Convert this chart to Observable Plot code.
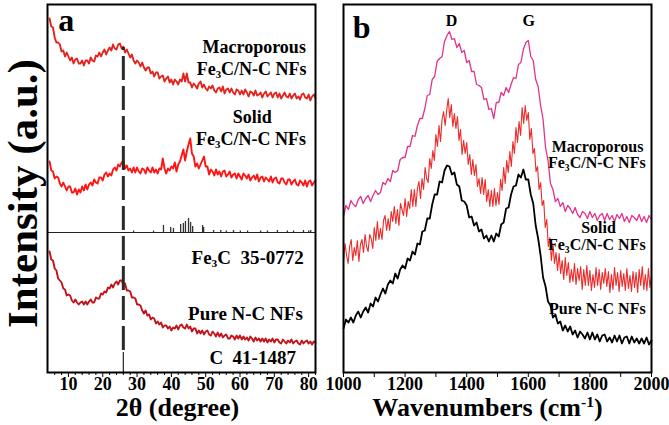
<!DOCTYPE html>
<html><head><meta charset="utf-8">
<script src="https://cdn.jsdelivr.net/npm/d3@7"></script>
<script src="https://cdn.jsdelivr.net/npm/@observablehq/plot@0.6"></script>
<style>
body{margin:0;background:#fff;}
#wrap{display:flex;width:669px;height:425px;overflow:hidden;}
#wrap svg{overflow:visible;}
</style></head><body><div id="wrap"></div>
<script>
// ---------- Panel a: XRD (2θ grid 4.5° → 82°, 0.5° step) ----------
const thetaStart = 4.5, thetaStep = 0.5;
const xrdMacroporous = [
354,346,345,335,330,330,328,321,322,316,
320,316,312,315,309,313,314,309,309,312,
307,312,312,309,315,312,311,317,316,320,
316,320,323,318,322,325,322,328,324,323,
328,329,324,326,320,323,319,315,318,312,
309,312,310,306,310,305,302,305,305,299,
301,296,300,300,294,296,297,291,294,296,
290,293,288,293,291,288,293,291,299,291,
299,290,290,285,289,287,284,289,291,285,
288,284,282,286,284,287,282,280,284,285,
281,286,279,283,284,280,284,280,278,283,
282,278,282,278,283,280,276,281,280,277,
282,277,278,280,275,279,281,276,278,280,
275,279,280,275,279,274,277,280,276,275,
279,274,277,279,274,276,273,278,279,275,
274,278,272,276,278,274];
const xrdSolid = [
211,202,201,194,196,195,189,186,190,186,
182,186,186,180,180,184,178,183,180,186,
182,188,183,188,190,187,193,190,189,195,
195,192,198,200,196,199,197,203,205,202,
208,206,210,212,204,207,202,204,200,205,
200,205,201,199,204,203,199,205,202,200,
205,200,203,199,204,203,214,204,199,204,
202,206,204,210,201,208,211,217,223,212,
221,228,234,219,216,206,209,204,208,212,
216,206,206,198,203,201,197,203,198,201,
196,201,202,196,198,201,195,198,199,194,
199,196,193,199,197,194,198,192,195,197,
193,198,191,195,196,191,195,193,191,196,
190,194,195,190,189,194,194,190,188,193,
193,188,191,193,188,187,192,190,187,192,
186,191,192,187,190,192];
const xrdPure = [
121,113,112,104,102,94,92,90,84,83,
77,78,77,72,70,73,70,68,70,71,
68,71,68,71,73,70,70,75,74,74,
79,78,81,80,85,84,88,85,89,91,
88,92,92,88,89,82,82,81,75,75,
74,68,68,67,62,59,62,57,58,53,
55,54,49,51,48,50,45,47,47,44,
46,42,45,44,47,43,47,48,45,44,
48,44,46,41,44,44,39,42,39,42,
38,41,42,38,37,41,39,36,40,36,
39,35,37,38,34,34,37,36,33,37,
34,37,33,36,33,35,32,36,34,31,
35,32,34,31,34,31,34,30,33,31,
34,30,33,33,30,29,33,31,29,32,
30,33,29,31,32,29,28,32,29,31,
32,29,31,28,31,30];
// Fe3C reference pattern (JCPDS 35-0772) and carbon (41-1487)
const fe3cAngle  = [29.0,34.8,37.7,39.8,40.6,42.7,43.5,44.1,45.0,45.6,46.2,49.1,49.4,52.3,54.4,56.0,58.1,60.1,62.2,66.0,68.0,70.9,73.8,75.6,78.5,80.0,80.6];
const fe3cHeight = [1.5,1.5,7,5,4,8,9,11,14,10,6,7,5,2,2,1.5,2,1.5,1.5,1.5,1.5,2,1.5,1.5,2,1.5,2];
const carbonAngle = [26.0];
const carbonHeight = [20];
const xrdTicks = [10,20,30,40,50,60,70,80];
const xrdMinorTicks = [6,8,12,14,16,18,22,24,26,28,32,34,36,38,42,44,46,48,52,54,56,58,62,64,66,68,72,74,76,78,82];

// ---------- Panel b: Raman (1000 → 2000 cm-1) ----------
const ramanStart = 1000, ramanStep = 8;      // macroporous and pure spectra
const ramanSolidStep = 5;                     // solid spectrum (noisier, finer sampling)
const ramanMacroporous = [
156,167,163,172,168,166,173,176,169,174,
177,171,177,182,178,180,190,188,194,191,
202,200,202,213,215,215,226,226,237,236,
247,254,254,264,277,278,293,296,311,314,
316,331,337,341,333,334,325,329,320,322,
310,312,301,301,288,287,285,273,274,263,
264,254,270,270,280,277,285,280,288,295,
294,308,310,323,330,332,316,312,293,286,
267,253,225,212,189,183,171,174,166,170,
161,167,164,159,165,158,155,161,159,154,
161,155,159,152,157,159,152,159,153,157,
151,158,154,159,151,156,150,157,155,152,
158,151,156,150,157,153];
const ramanSolid = [
111,129,117,109,126,133,112,125,117,132,
111,128,133,120,138,126,121,138,134,124,
145,132,151,133,144,133,152,157,142,154,
142,161,151,166,149,163,147,169,163,157,
174,156,171,164,183,166,183,166,184,191,
174,194,183,205,194,190,214,204,222,212,
238,226,247,231,253,261,247,262,274,255,
268,246,259,244,256,232,243,218,232,219,
230,208,218,198,213,197,208,186,194,179,
195,178,193,171,183,166,182,166,184,167,
180,168,193,182,205,189,212,200,221,206,
231,219,245,230,251,237,265,249,267,252,
260,233,244,219,224,201,206,183,190,167,
172,145,153,126,135,112,129,109,120,102,
119,99,112,93,115,97,110,90,103,91,
109,88,104,92,106,83,103,87,107,87,
102,82,98,85,105,87,103,83,100,89,
104,86,101,80,98,83,105,87,100,81,
102,86,99,82,104,84,97,81,101,85,
100,80,103,87,106,83,98,82,104,85,
97];
const ramanPure = [
44,53,50,55,50,57,61,55,61,65,
60,69,66,75,71,78,84,79,88,92,
89,99,94,103,107,104,114,112,121,118,
129,128,141,142,154,154,168,178,178,191,
190,202,207,206,198,200,188,186,172,171,
167,155,156,147,150,141,143,134,137,131,
137,131,139,136,148,150,164,165,178,186,
187,198,195,203,193,193,178,169,147,134,
117,95,86,71,67,55,58,49,51,42,
47,41,46,38,42,35,41,38,34,40,
33,40,33,38,31,37,38,31,35,30,
37,31,37,29,35,36,29,36,30,34,
29,34,29,35,28,32];
const ramanTicks = [1000,1200,1400,1600,1800,2000];
const ramanMinorTicks = [1100,1300,1500,1700,1900];

// ---------- helpers ----------
const rows = (arr, start, step) => arr.map((v, i) => ({x: start + i * step, y: v}));
const serif = "'Liberation Serif','Times New Roman',serif";

function enrich(svg) {
  d3.select(svg).selectAll("text").each(function () {
    const t = this.textContent;
    const el = d3.select(this);
    if (t.includes("Fe3C")) {
      const i = t.indexOf("Fe3C");
      el.text(null);
      el.append("tspan").text(t.slice(0, i) + "Fe");
      el.append("tspan").attr("font-size", "0.6em").attr("baseline-shift", "-30%").text("3");
      el.append("tspan").text("C" + t.slice(i + 4));
    } else if (t.includes("cm-1")) {
      const i = t.indexOf("cm-1");
      el.text(null);
      el.append("tspan").text(t.slice(0, i) + "cm");
      el.append("tspan").attr("font-size", "0.6em").attr("baseline-shift", "55%").text("-1");
      el.append("tspan").text(t.slice(i + 4));
    }
  });
  return svg;
}

const common = {
  height: 425, marginTop: 4, marginBottom: 53,
  y: {domain: [0, 368], axis: null},
  style: {fontFamily: serif, fontWeight: "bold", fontSize: "18px", color: "black", background: "white"}
};

// ---------- Panel a ----------
const chartA = Plot.plot({
  ...common,
  width: 330, marginLeft: 47, marginRight: 15,
  x: {domain: [3.9, 82], label: null},
  marks: [
    Plot.ruleY([140], {stroke: "#222", strokeWidth: 1.2}),
    Plot.ruleX(fe3cAngle, {x: d => d, y1: 140, y2: (d, i) => 140 + fe3cHeight[i], stroke: "#333", strokeWidth: 1.3}),
    Plot.ruleX(carbonAngle, {x: d => d, y1: 0, y2: (d, i) => carbonHeight[i], stroke: "#222", strokeWidth: 1.2}),
    Plot.line(rows(xrdMacroporous, thetaStart, thetaStep), {x: "x", y: "y", stroke: "#e3241e", strokeWidth: 1.9}),
    Plot.line(rows(xrdSolid, thetaStart, thetaStep), {x: "x", y: "y", stroke: "#ff1414", strokeWidth: 1.9}),
    Plot.line(rows(xrdPure, thetaStart, thetaStep), {x: "x", y: "y", stroke: "#c3121a", strokeWidth: 1.9}),
    Plot.ruleX(carbonAngle, {x: d => d, y1: 22, y2: 325, stroke: "#2a2a2a", strokeWidth: 3, strokeDasharray: "24,6"}),
    Plot.ruleX(xrdMinorTicks, {x: d => d, y1: 0, y2: -3, stroke: "black", strokeWidth: 1}),
    Plot.axisX(xrdTicks, {tickSize: 5, tickPadding: 0, stroke: "black", fontSize: 18, label: null}),
    Plot.frame({stroke: "black", strokeWidth: 2}),
    Plot.text(["a"], {x: 7.0, y: 352, textAnchor: "start", fontSize: 32, fontWeight: "bold"}),
    Plot.text(["Macroporous"], {x: 79.2, y: 325, textAnchor: "end", fontSize: 18}),
    Plot.text(["Fe3C/N-C NFs"], {x: 79.4, y: 303, textAnchor: "end", fontSize: 18}),
    Plot.text(["Solid"], {x: 63.6, y: 255, textAnchor: "middle", fontSize: 18}),
    Plot.text(["Fe3C/N-C NFs"], {x: 79.2, y: 233, textAnchor: "end", fontSize: 18}),
    Plot.text(["Fe3C\u00a0\u00a035-0772"], {x: 78.6, y: 115, textAnchor: "end", fontSize: 19}),
    Plot.text(["Pure N-C NFs"], {x: 78.3, y: 59, textAnchor: "end", fontSize: 19}),
    Plot.text(["C\u00a0\u00a041-1487"], {x: 76.3, y: 15, textAnchor: "end", fontSize: 19}),
    Plot.text(["2θ (degree)"], {frameAnchor: "bottom", textAnchor: "middle", dx: -4, dy: 43, fontSize: 26}),
    Plot.text(["Intensity (a.u.)"], {frameAnchor: "left", textAnchor: "middle", lineAnchor: "middle", dx: -24, dy: 5, rotate: -90, fontSize: 43})
  ]
});

// ---------- Panel b ----------
const chartB = Plot.plot({
  ...common,
  width: 339, marginLeft: 13, marginRight: 18,
  x: {domain: [1000, 2000], label: null},
  marks: [
    Plot.line(rows(ramanMacroporous, ramanStart, ramanStep), {x: "x", y: "y", stroke: "#e2338a", strokeWidth: 1.3}),
    Plot.line(rows(ramanSolid, ramanStart, ramanSolidStep), {x: "x", y: "y", stroke: "#ec2a2a", strokeWidth: 1.1}),
    Plot.line(rows(ramanPure, ramanStart, ramanStep), {x: "x", y: "y", stroke: "#000", strokeWidth: 1.8}),
    Plot.ruleX(ramanMinorTicks, {x: d => d, y1: 0, y2: -5, stroke: "black", strokeWidth: 1}),
    Plot.axisX(ramanTicks, {tickSize: 5, tickPadding: 0, stroke: "black", fontSize: 18, label: null, tickFormat: d => String(d)}),
    Plot.frame({stroke: "black", strokeWidth: 2}),
    Plot.text(["b"], {x: 1030, y: 345, textAnchor: "start", fontSize: 32, fontWeight: "bold"}),
    Plot.text(["D"], {x: 1351, y: 352, fontSize: 16}),
    Plot.text(["G"], {x: 1601, y: 352, fontSize: 16}),
    Plot.text(["Macroporous"], {x: 1974, y: 226, textAnchor: "end", fontSize: 16}),
    Plot.text(["Fe3C/N-C NFs"], {x: 1981, y: 210, textAnchor: "end", fontSize: 16}),
    Plot.text(["Solid"], {x: 1828, y: 145, textAnchor: "middle", fontSize: 16}),
    Plot.text(["Fe3C/N-C NFs"], {x: 1981, y: 128, textAnchor: "end", fontSize: 16}),
    Plot.text(["Pure N-C NFs"], {x: 1981, y: 64, textAnchor: "end", fontSize: 16}),
    Plot.text(["Wavenumbers (cm-1)"], {frameAnchor: "bottom", textAnchor: "middle", dx: -10, dy: 43, fontSize: 26})
  ]
});

const wrap = document.getElementById("wrap");
wrap.appendChild(enrich(chartA));
wrap.appendChild(enrich(chartB));
</script></body></html>
